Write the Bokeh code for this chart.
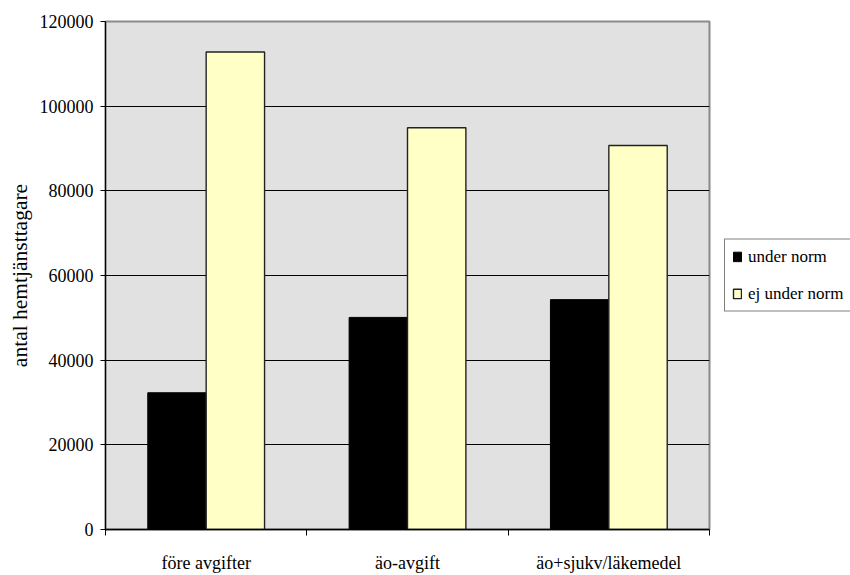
from bokeh.plotting import figure
from bokeh.models import ColumnDataSource, FixedTicker, Legend, LegendItem
from bokeh.embed import file_html
from bokeh.resources import INLINE
import numpy as np

# Data
categories = ["före avgifter", "äo-avgift", "äo+sjukv/läkemedel"]
under_norm = [32300, 50100, 54300]
ej_under_norm = [112800, 94900, 90700]
series_names = ["under norm", "ej under norm"]
y_ticks = [0, 20000, 40000, 60000, 80000, 100000, 120000]

FONT = "'Liberation Serif', 'Times New Roman', serif"
idx = np.arange(len(categories))
centers = idx + 0.5
bar_w = 0.29

src_a = ColumnDataSource(dict(x=centers - bar_w / 2, top=under_norm))
src_b = ColumnDataSource(dict(x=centers + bar_w / 2, top=ej_under_norm))

p = figure(frame_width=604, frame_height=508, output_backend="svg", toolbar_location=None,
           x_range=(0, len(categories)), y_range=(0, 120000),
           min_border_left=105, min_border_right=141,
           min_border_top=21, min_border_bottom=46)

p.border_fill_color = "white"
p.background_fill_color = "#E1E1E1"
p.outline_line_color = "#8a8a8a"
p.outline_line_width = 2

r_a = p.vbar(x="x", top="top", width=bar_w, bottom=0, source=src_a,
             fill_color="black", line_color="black", line_width=1)
r_b = p.vbar(x="x", top="top", width=bar_w, bottom=0, source=src_b,
             fill_color="#FFFFC6", line_color="#222222", line_width=1.4)

# Grid
p.xgrid.visible = False
p.ygrid.ticker = FixedTicker(ticks=y_ticks[1:-1])
p.ygrid.grid_line_color = "black"
p.ygrid.grid_line_width = 1

# Y axis
ya = p.yaxis[0]
ya.ticker = FixedTicker(ticks=y_ticks)
ya.formatter.use_scientific = False
ya.major_label_text_font = FONT
ya.major_label_text_font_size = "18px"
ya.major_label_text_color = "black"
ya.major_label_standoff = 7
ya.major_tick_out = 5
ya.major_tick_in = 0
ya.minor_tick_line_color = None
ya.axis_line_color = "black"
ya.axis_line_width = 1.2
ya.major_tick_line_color = "black"
ya.axis_label = "antal hemtjänsttagare"
ya.axis_label_text_font = FONT
ya.axis_label_text_font_size = "21.5px"
ya.axis_label_text_font_style = "normal"
ya.axis_label_text_color = "black"
ya.axis_label_standoff = 5

# X axis: labels at category centers, tick marks at boundaries
xa = p.xaxis[0]
xa.ticker = FixedTicker(ticks=list(centers), minor_ticks=list(map(float, range(len(categories) + 1))))
xa.major_label_overrides = {float(c): name for c, name in zip(centers, categories)}
xa.major_label_text_font = FONT
xa.major_label_text_font_size = "18px"
xa.major_label_text_color = "black"
xa.major_label_standoff = 17
xa.major_tick_out = 0
xa.major_tick_in = 0
xa.major_tick_line_color = None
xa.minor_tick_out = 6
xa.minor_tick_in = 0
xa.minor_tick_line_color = "black"
xa.axis_line_color = "black"
xa.axis_line_width = 1.5

legend = Legend(items=[LegendItem(label=series_names[0], renderers=[r_a]),
                       LegendItem(label=series_names[1], renderers=[r_b])],
                location="center_left", orientation="vertical")
legend.label_text_font = FONT
legend.label_text_font_size = "17px"
legend.label_text_color = "black"
legend.glyph_width = 10
legend.glyph_height = 12
legend.label_standoff = 6
legend.label_height = 20
legend.spacing = 17
legend.padding = 7
legend.margin = 15
legend.border_line_color = "black"
legend.border_line_width = 1
legend.background_fill_color = "white"
legend.background_fill_alpha = 1
p.add_layout(legend, "right")

open("out.html", "w").write(file_html(p, INLINE))
